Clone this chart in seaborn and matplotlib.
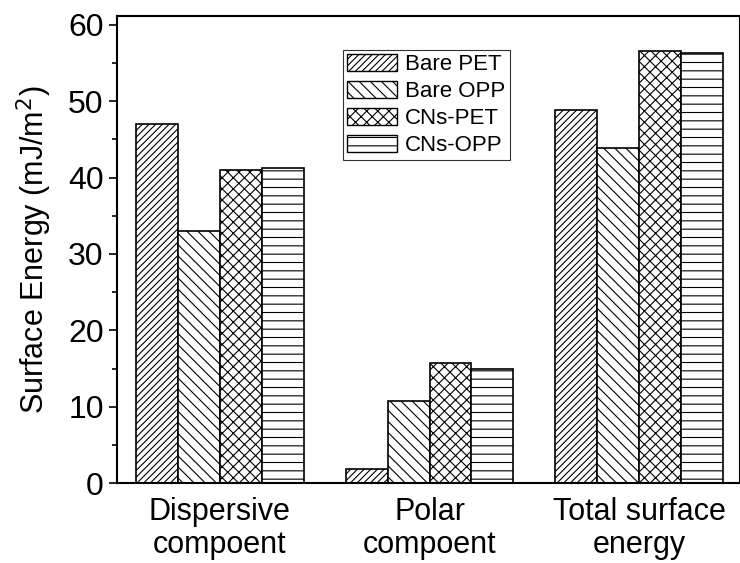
import numpy as np
import pandas as pd
import seaborn as sns
import matplotlib.pyplot as plt
from matplotlib.patches import Patch

# datos
components = ["Dispersive\ncompoent", "Polar\ncompoent", "Total surface\nenergy"]
samples = ["Bare PET", "Bare OPP", "CNs-PET", "CNs-OPP"]
bare_pet = [47.0, 1.8, 48.8]
bare_opp = [33.0, 10.8, 43.9]
cns_pet = [41.0, 15.7, 56.6]
cns_opp = [41.3, 15.0, 56.3]

hatches = ["/////", "\\\\\\", "xxx", "--"]

sns.set_style("ticks")
plt.rcParams['font.family'] = ['Liberation Sans', 'DejaVu Sans']
plt.rcParams['hatch.linewidth'] = 0.8
plt.rcParams['text.color'] = 'black'
plt.rcParams['axes.labelcolor'] = 'black'
plt.rcParams['xtick.color'] = 'black'
plt.rcParams['ytick.color'] = 'black'

df = pd.DataFrame({
    "component": components * 4,
    "sample": sum([[s] * 3 for s in samples], []),
    "value": bare_pet + bare_opp + cns_pet + cns_opp,
})

fig = plt.figure(figsize=(7.4, 5.63), dpi=100)
ax = fig.add_axes([0.158, 0.142, 0.842, 0.830])

sns.barplot(data=df, x="component", y="value", hue="sample", hue_order=samples,
            order=components, width=0.8, gap=0, palette=["white"] * 4,
            edgecolor="black", linewidth=1.2, legend=False, ax=ax)

for cont, h in zip(ax.containers, hatches):
    for p in cont:
        p.set_hatch(h)
        p.set_edgecolor("black")
        p.set_facecolor("white")

handles = [Patch(facecolor="white", edgecolor="black", hatch=h, label=s)
           for s, h in zip(samples, hatches)]
# caja de la leyenda: x 343-511 px, y 50-162 px
leg = ax.legend(handles=handles, loc="upper left",
                bbox_to_anchor=((343 - 117) / 623, (483 - 50) / 467),
                fontsize=16, frameon=True, fancybox=False, edgecolor="black",
                handlelength=2.25, handleheight=0.8, borderpad=0.2, labelspacing=0.25,
                handletextpad=0.35, borderaxespad=0)
leg.get_frame().set_linewidth(0.8)

ax.set_ylim(0, 61.2)
ax.set_xlim(-0.49, 2.48)
ax.set_yticks(np.arange(0, 61, 10))
ax.set_yticks(np.arange(5, 61, 10), minor=True)
ax.tick_params(axis="y", which="major", direction="out", length=6, width=1.2, labelsize=23)
ax.tick_params(axis="y", which="minor", direction="out", length=3.5, width=1.2)
ax.tick_params(axis="x", direction="out", length=0, labelsize=22, pad=10)
for lab in ax.get_xticklabels():
    lab.set_linespacing(1.15)
ax.set_xlabel("")
ax.set_ylabel("Surface Energy (mJ/m$^2$)", fontsize=22, labelpad=10)
for side in ["left", "bottom", "top", "right"]:
    ax.spines[side].set_linewidth(1.5)
    ax.spines[side].set_color("black")

fig.savefig("out.png", dpi=100)
